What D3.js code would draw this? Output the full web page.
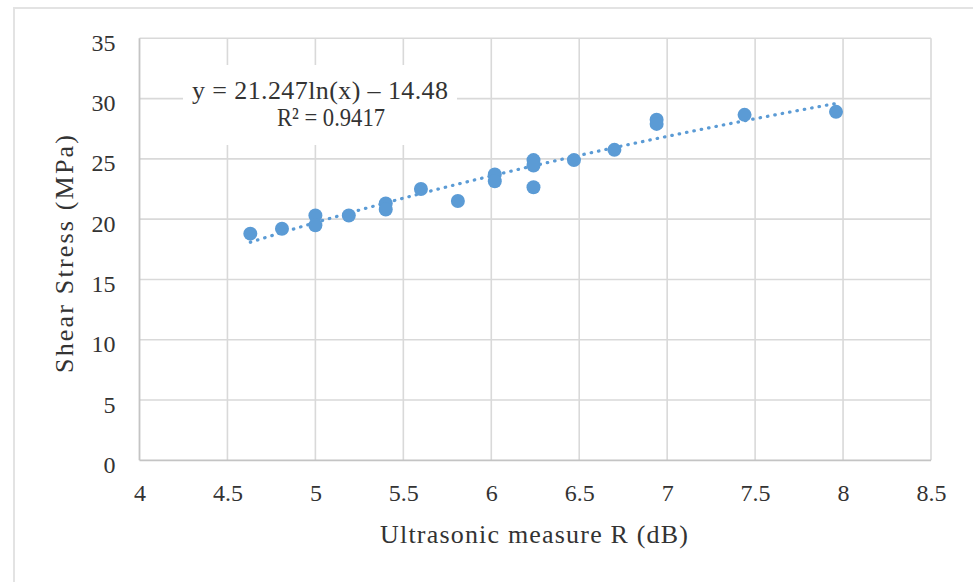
<!DOCTYPE html>
<html>
<head>
<meta charset="utf-8">
<script src="https://cdn.jsdelivr.net/npm/d3@7"></script>
<style>
  html, body { margin: 0; padding: 0; background: #fff; }
  svg { display: block; }
  text { font-family: "Liberation Serif", "DejaVu Serif", serif; fill: #333; font-weight: normal; }
</style>
</head>
<body>
<svg id="chart" width="973" height="582"></svg>
<script>
// ---- data ----
const ultrasonicR = [4.63, 4.81, 5.0, 5.0, 5.19, 5.4, 5.4, 5.6, 5.81, 6.02, 6.02, 6.24, 6.24, 6.24, 6.47, 6.7, 6.94, 6.94, 7.44, 7.96];
const shearStress = [18.8, 19.2, 20.3, 19.5, 20.3, 21.3, 20.8, 22.5, 21.5, 23.7, 23.15, 24.9, 24.45, 22.65, 24.9, 25.75, 28.25, 27.9, 28.65, 28.9];
const xTicks = [4, 4.5, 5, 5.5, 6, 6.5, 7, 7.5, 8, 8.5];
const yTicks = [0, 5, 10, 15, 20, 25, 30, 35];
// logarithmic trendline coefficients shown on the chart
const trendA = 21.247;
const trendB = -14.48;
const trendR2 = 0.9417;
const xTitle = "Ultrasonic measure R (dB)";
const yTitle = "Shear Stress (MPa)";

// ---- layout ----
const svg = d3.select("#chart");
const pL = 139.5, pR = 931, pT = 38.3, pB = 460.3;
const x = d3.scaleLinear().domain([4, 8.5]).range([pL, pR]);
const y = d3.scaleLinear().domain([0, 35]).range([pB, pT]);

// outer chart border
svg.append("path")
  .attr("d", `M14,582 L14,8 L973,8`)
  .attr("fill", "none").attr("stroke", "#e3e3e3").attr("stroke-width", 2);

// gridlines
const grid = svg.append("g");
grid.selectAll("line.v").data(xTicks.slice(1)).join("line")
  .attr("x1", d => x(d)).attr("x2", d => x(d))
  .attr("y1", pT).attr("y2", pB)
  .attr("stroke", "#d9d9d9").attr("stroke-width", 1.6);
grid.selectAll("line.h").data(yTicks.slice(1)).join("line")
  .attr("x1", pL).attr("x2", pR)
  .attr("y1", d => y(d)).attr("y2", d => y(d))
  .attr("stroke", "#d9d9d9").attr("stroke-width", 1.6);

// axes lines
svg.append("line").attr("x1", pL).attr("x2", pL).attr("y1", pT).attr("y2", pB)
  .attr("stroke", "#c4c4c4").attr("stroke-width", 1.8);
svg.append("line").attr("x1", pL).attr("x2", pR).attr("y1", pB).attr("y2", pB)
  .attr("stroke", "#c4c4c4").attr("stroke-width", 1.8);

// tick labels via d3 axes (lines hidden)
const xAxis = svg.append("g").attr("transform", `translate(0,${pB})`)
  .call(d3.axisBottom(x).tickValues(xTicks).tickSize(0).tickPadding(0).tickFormat(d => d3.format("")(d)));
xAxis.select(".domain").remove();
xAxis.selectAll("text").attr("y", 41).attr("dy", 0)
  .style("font-size", "24px").style("font-family", "Liberation Serif").attr("fill", "#333");

const yAxis = svg.append("g").attr("transform", `translate(${pL},0)`)
  .call(d3.axisLeft(y).tickValues(yTicks).tickSize(0).tickPadding(0));
yAxis.select(".domain").remove();
yAxis.selectAll("text").attr("x", -24).attr("dy", "0.5em")
  .style("font-size", "24px").style("font-family", "Liberation Serif").attr("fill", "#333");

// axis titles
svg.append("text").attr("x", 534).attr("y", 543).attr("text-anchor", "middle")
  .attr("textLength", 308).attr("lengthAdjust", "spacing")
  .style("font-size", "26px").text(xTitle);
svg.append("text").attr("transform", "translate(73,254) rotate(-90)").attr("text-anchor", "middle")
  .attr("textLength", 238).attr("lengthAdjust", "spacing")
  .style("font-size", "26px").text(yTitle);

// trendline (dotted)
const xMin = d3.min(ultrasonicR), xMax = d3.max(ultrasonicR);
const trendX = d3.range(0, 101).map(i => xMin + i * (xMax - xMin) / 100);
const line = d3.line().x(d => x(d)).y(d => y(trendA * Math.log(d) + trendB));
svg.append("path").datum(trendX).attr("d", line)
  .attr("fill", "none").attr("stroke", "#5b9bd5").attr("stroke-width", 3.2)
  .attr("stroke-linecap", "round").attr("stroke-dasharray", "0.5 7");

// points
svg.append("g").selectAll("circle").data(ultrasonicR.map((d, i) => [d, shearStress[i]])).join("circle")
  .attr("cx", d => x(d[0])).attr("cy", d => y(d[1])).attr("r", 7)
  .attr("fill", "#5b9bd5");

// equation label with white background
svg.append("rect").attr("x", 183).attr("y", 65).attr("width", 274).attr("height", 80).attr("fill", "#fff");
svg.append("text").attr("x", 320).attr("y", 99).attr("text-anchor", "middle")
  .attr("textLength", 256).attr("lengthAdjust", "spacing")
  .style("font-size", "26px").text(`y = ${trendA}ln(x) – ${Math.abs(trendB)}`);
svg.append("text").attr("x", 331).attr("y", 126).attr("text-anchor", "middle")
  .attr("textLength", 108).attr("lengthAdjust", "spacingAndGlyphs")
  .style("font-size", "26px").text(`R² = ${trendR2}`);
</script>
</body>
</html>
